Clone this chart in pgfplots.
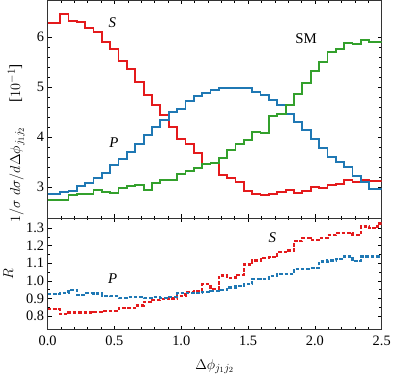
\documentclass[border=0pt]{standalone}
\usepackage{fontspec}
\setmainfont{Liberation Serif}
\usepackage{pgfplots}
\usepackage{pgfplotstable}
\pgfplotsset{compat=1.18}
\definecolor{cS}{RGB}{228,26,28}
\definecolor{cP}{RGB}{31,120,180}
\definecolor{cSM}{RGB}{51,160,44}

\pgfplotstableread{
x S P SM RS RP
0 6.29 2.87 2.75 0.84 0.926
0.09375 6.47 2.91 2.75 0.81 0.932
0.15625 6.32 2.92 2.85 0.82 0.950
0.21875 6.30 3.02 2.87 0.82 0.922
0.28125 6.19 3.09 2.87 0.82 0.930
0.34375 6.10 3.19 2.94 0.825 0.928
0.40625 5.90 3.29 2.91 0.83 0.916
0.46875 5.77 3.44 2.89 0.83 0.913
0.53125 5.53 3.57 2.99 0.845 0.905
0.59375 5.37 3.71 3.03 0.845 0.909
0.65625 5.10 3.86 3.05 0.86 0.907
0.71875 4.85 4.04 2.95 0.88 0.903
0.78125 4.64 4.21 3.09 0.89 0.907
0.84375 4.44 4.35 3.15 0.895 0.905
0.90625 4.21 4.50 3.14 0.90 0.909
0.96875 3.97 4.57 3.26 0.913 0.933
1.03125 3.86 4.72 3.33 0.937 0.931
1.09375 3.69 4.82 3.39 0.943 0.931
1.15625 3.47 4.89 3.47 0.98 0.937
1.21875 3.49 4.95 3.49 0.956 0.943
1.28125 3.24 4.98 3.59 1.03 0.947
1.34375 3.19 4.98 3.74 1.016 0.962
1.40625 3.11 4.99 3.87 1.035 0.969
1.46875 2.92 4.98 3.94 1.093 0.98
1.53125 2.87 4.90 4.11 1.116 1.012
1.59375 2.84 4.84 4.09 1.131 1.012
1.65625 2.87 4.75 4.43 1.135 1.027
1.71875 2.91 4.65 4.47 1.163 1.04
1.78125 2.94 4.47 4.65 1.172 1.04
1.84375 2.89 4.30 4.87 1.225 1.069
1.90625 2.93 4.14 5.09 1.242 1.069
1.96875 3.01 3.97 5.32 1.232 1.073
2.03125 2.99 3.78 5.50 1.242 1.11
2.09375 3.04 3.60 5.70 1.259 1.116
2.15625 3.06 3.50 5.77 1.27 1.125
2.21875 3.15 3.40 5.88 1.27 1.138
2.28125 3.11 3.22 5.87 1.26 1.112
2.34375 3.14 3.10 5.95 1.309 1.138
2.40625 3.12 2.96 5.91 1.298 1.138
2.46875 3.12 2.96 5.91 1.326 1.138
2.5 3.12 2.96 5.91 1.326 1.138
}\data

\pgfplotsset{
  common/.style={
    scale only axis, width=336bp,
    xmin=0, xmax=2.5,
    xtick={0,0.5,1,1.5,2,2.5}, minor x tick num=4,
    tick align=inside,
    major tick length=4bp, minor tick length=2.3bp,
    axis line style={line width=0.7bp, black!80},
    every tick/.style={black, line width=0.5bp},
    ticklabel style={font=\fontsize{14.5}{16}\selectfont},
    label style={font=\fontsize{15.5}{17}\selectfont},
    /pgf/number format/assume math mode=true,
    xticklabel style={yshift=-3bp, /pgf/number format/fixed, /pgf/number format/fixed zerofill, /pgf/number format/precision=1},
  },
  hist/.style={const plot, line width=1.8bp},
  ratio/.style={const plot, line width=2.2bp, dash pattern=on 3.6bp off 1.8bp},
}

\begin{document}
\begin{tikzpicture}
\begin{axis}[common, name=top,
  height=219bp, ymin=2.38, ymax=6.74,
  ytick={3,4,5,6}, minor y tick num=4,
  xticklabels={},
  ylabel={$1/\sigma\; d\sigma/d\Delta\phi_{j_1 j_2}$\hspace{1.6em}[$10^{-1}$]},
  ylabel style={at={(axis description cs:-0.094,0.345)}, anchor=center},
]
\addplot[hist, cS] table[x=x, y=S] {\data};
\addplot[hist, cP] table[x=x, y=P] {\data};
\addplot[hist, cSM] table[x=x, y=SM] {\data};
\node[font=\fontsize{15}{16}\selectfont\itshape] at (axis cs:0.484,6.30) {S};
\node[font=\fontsize{15}{16}\selectfont\itshape] at (axis cs:0.496,3.89) {P};
\node[font=\fontsize{15}{16}\selectfont] at (axis cs:1.934,5.97) {SM};
\end{axis}
\begin{axis}[common, at={(top.south west)}, anchor=north west,
  height=112bp, ymin=0.724, ymax=1.356,
  ytick={0.8,0.9,1.0,1.1,1.2,1.3}, minor y tick num=1,
  yticklabel style={/pgf/number format/fixed, /pgf/number format/fixed zerofill, /pgf/number format/precision=1},
  xlabel={$\Delta\phi_{j_1 j_2}$},
  xlabel style={at={(axis description cs:0.5,-0.33)}, anchor=center},
  ylabel={$R$},
  ylabel style={at={(axis description cs:-0.118,0.5)}, anchor=center},
]
\addplot[ratio, cS] table[x=x, y=RS] {\data};
\addplot[ratio, cP] table[x=x, y=RP] {\data};
\node[font=\fontsize{15}{16}\selectfont\itshape] at (axis cs:1.681,1.247) {S};
\node[font=\fontsize{15}{16}\selectfont\itshape] at (axis cs:0.486,1.012) {P};
\end{axis}
\end{tikzpicture}
\end{document}
